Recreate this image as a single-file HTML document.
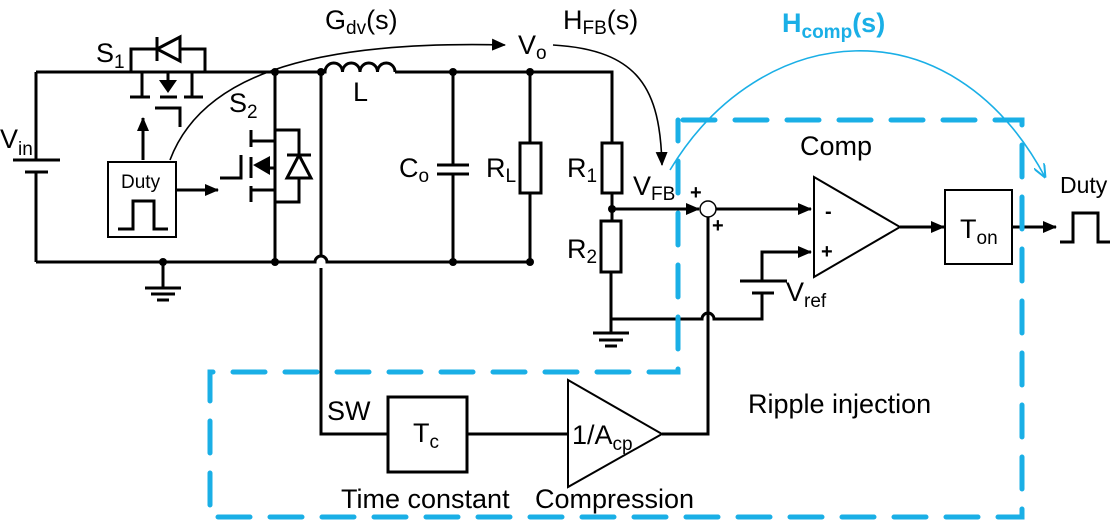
<!DOCTYPE html>
<html><head><style>
html,body{margin:0;padding:0;background:#fff;}
svg{display:block;font-family:"Liberation Sans",Arial,sans-serif;}
</style></head><body>
<svg width="1112" height="524" viewBox="0 0 1112 524" xmlns="http://www.w3.org/2000/svg">
<defs>
<marker id="ahl" markerWidth="14" markerHeight="12" refX="13" refY="6" orient="auto" markerUnits="userSpaceOnUse"><path d="M0,0 L14,6 L0,12 z" fill="#000"/></marker>
<marker id="ahb" markerWidth="14" markerHeight="12" refX="13" refY="6" orient="auto" markerUnits="userSpaceOnUse"><path d="M0,0 L14,6 L0,12" fill="none" stroke="#1AAFE6" stroke-width="2"/></marker>
</defs>
<g stroke="#000" stroke-width="3" fill="none">
<path d="M36,72 H321"/>
<path d="M395,72 H612 V143"/>
<path d="M321,72 h4 a8.75,9 0 0 1 17.5,0 a8.75,9 0 0 1 17.5,0 a8.75,9 0 0 1 17.5,0 a8.75,9 0 0 1 17.5,0"/>
<path d="M36,72 V160 M13,160 H60 M25,172 H48 M36,172 V262"/>
<path d="M36,262 H315 a6,6 0 0 1 12,0 H530"/>
<path d="M163,262 V288 M145,288 H181 M151,294 H175 M157,300 H169"/>
<path d="M131,72 V49 H205 V72"/>
<path d="M142,72 V97 M192,72 V97 M168,72 V80"/>
<path d="M130,97 H150 M160,97 H177 M184,97 H203"/>
<path d="M155,108 H180 V127"/>
<path d="M157,37 V61"/>
<path d="M275,72 V262"/>
<path d="M251,130 V147 M251,157 V178 M251,186 V202"/>
<path d="M251,141 H275 M251,190 H275 M270,168 H275"/>
<path d="M220,178 H241 V155"/>
<path d="M275,130 H299 V202 H275 M287,155 H311"/>
<path d="M143,160 V118" marker-end="url(#ahl)"/>
<path d="M176,190 H218" marker-end="url(#ahl)"/>
<path d="M453,72 V165 M437,165 H469 M437,174 H469 M453,174 V262"/>
<path d="M530,72 V143 M530,193 V262"/>
<rect x="520" y="143" width="21" height="50"/>
<rect x="602" y="143" width="20" height="50"/>
<path d="M612,193 V221"/>
<rect x="601" y="221" width="20" height="51"/>
<path d="M611,272 V333 M593,333 H629 M599,340 H623 M605,346 H617"/>
<path d="M611,319 H702 a6,6 0 0 1 12,0 H762 V293 M752,293 H774 M740,281 H787 M762,281 V252 H810"/>
<path d="M321,72 V256 M321,268 V434 H388"/>
<rect x="388" y="397" width="79" height="75"/>
<path d="M467,434 H568"/>
<path d="M568,380 V487 L662,434 Z" stroke-width="2"/>
<path d="M662,434 H708 V217"/>
<path d="M612,209 H699" marker-end="url(#ahl)"/>
<path d="M716,209 H811" marker-end="url(#ahl)"/>
<path d="M762,252 H811" marker-end="url(#ahl)"/>
<path d="M814,177 V277 L900,227 Z" stroke-width="2"/>
<path d="M900,227 H944" marker-end="url(#ahl)"/>
<rect x="945" y="190" width="67" height="74" stroke-width="2"/>
<path d="M1012,227 H1056" marker-end="url(#ahl)"/>
<path d="M1060,242 H1073 V213 H1098 V242 H1110"/>
<path d="M170,160 C200,80 300,40 505,45" stroke-width="1.6" marker-end="url(#ahl)"/>
<path d="M553,45 C640,50 660,90 662,165" stroke-width="1.6" marker-end="url(#ahl)"/>
</g>
<g fill="#000">
<rect x="108" y="162" width="68" height="75" fill="#fff" stroke="#000" stroke-width="2"/>
<path d="M118,229 H133 V201 H154 V229 H168" fill="none" stroke="#000" stroke-width="3"/>
<path d="M157,49 L180,37 V61 Z" fill="#fff" stroke="#000" stroke-width="3"/>
<path d="M159,80 H177 L168,93 Z"/>
<path d="M253,165 L270,156 V175 Z"/>
<path d="M299,155 L287,178 H311 Z" fill="#fff" stroke="#000" stroke-width="3"/>
<circle cx="275" cy="72" r="4"/><circle cx="321" cy="72" r="4"/><circle cx="453" cy="72" r="4"/><circle cx="530" cy="72" r="4"/>
<circle cx="163" cy="262" r="4"/><circle cx="275" cy="262" r="4"/><circle cx="453" cy="262" r="4"/><circle cx="530" cy="262" r="4"/>
<circle cx="612" cy="209" r="4"/>
</g>
<circle cx="708" cy="209" r="8" fill="#fff" stroke="#000" stroke-width="1.5"/>
<g stroke="#1AAFE6" stroke-width="5" fill="none" stroke-linecap="round">
<path d="M683,120 H1022 V517 H210 V372 H678 V120" stroke-dasharray="32,20"/>
</g>
<path d="M670,170 C760,20 950,0 1045,177" stroke="#1AAFE6" stroke-width="1.6" fill="none" marker-end="url(#ahb)"/>
<g font-size="27" fill="#000">
<text x="0" y="148">V<tspan font-size="19" dy="7">in</tspan></text>
<text x="96" y="62">S<tspan font-size="19" dy="6">1</tspan></text>
<text x="229" y="112">S<tspan font-size="19" dy="6">2</tspan></text>
<text x="121" y="188" font-size="19">Duty</text>
<text x="325" y="29">G<tspan font-size="19" dy="5">dv</tspan><tspan dy="-5">(s)</tspan></text>
<text x="518" y="54">V<tspan font-size="19" dy="5">o</tspan></text>
<text x="563" y="29">H<tspan font-size="19" dy="5">FB</tspan><tspan dy="-5">(s)</tspan></text>
<text x="353" y="101">L</text>
<text x="399" y="177">C<tspan font-size="19" dy="5">o</tspan></text>
<text x="486" y="177">R<tspan font-size="19" dy="5">L</tspan></text>
<text x="567" y="177">R<tspan font-size="19" dy="5">1</tspan></text>
<text x="567" y="258">R<tspan font-size="19" dy="5">2</tspan></text>
<text x="633" y="195">V<tspan font-size="19" dy="5">FB</tspan></text>
<text x="786" y="301">V<tspan font-size="19" dy="6">ref</tspan></text>
<text x="800" y="155">Comp</text>
<text x="960" y="238">T<tspan font-size="19" dy="6">on</tspan></text>
<text x="1060" y="193" font-size="23">Duty</text>
<text x="748" y="413">Ripple injection</text>
<text x="327" y="420">SW</text>
<text x="413" y="442">T<tspan font-size="19" dy="6">c</tspan></text>
<text x="572" y="444">1/A<tspan font-size="19" dy="6">cp</tspan></text>
<text x="341" y="508">Time constant</text>
<text x="535" y="508">Compression</text>
<text x="782" y="32" fill="#1AAFE6" font-weight="bold">H<tspan font-size="19" dy="6">comp</tspan><tspan dy="-6">(s)</tspan></text>
</g>
<g font-size="20" font-weight="bold" fill="#000">
<text x="690" y="199">+</text>
<text x="712" y="232">+</text>
<text x="825" y="218">-</text>
<text x="821" y="258">+</text>
</g>
</svg>
</body></html>
